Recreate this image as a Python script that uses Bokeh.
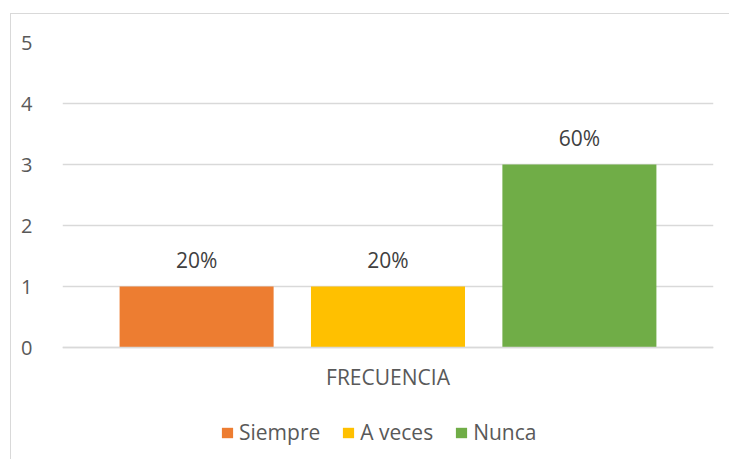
from bokeh.plotting import figure
from bokeh.models import ColumnDataSource, FactorRange, Range1d, Legend, LegendItem
from bokeh.transform import dodge
from bokeh.core.properties import value
from bokeh.embed import file_html
from bokeh.resources import INLINE

# ---- data ----
categories = ["FRECUENCIA"]
series_names = ["Siempre", "A veces", "Nunca"]
series_values = [1, 1, 3]
pct_labels = ["20%", "20%", "60%"]
y_ticks = [0, 1, 2, 3, 4, 5]

# ---- style ----
colors = ["#ED7D31", "#FFC000", "#70AD47"]
offsets = [-0.294, 0.0, 0.294]
bar_width = 0.2366
FONT = "Open Sans"
GRID = "#d9d9d9"
TXT = "#595959"

p = figure(
    x_range=FactorRange(factors=categories),
    y_range=Range1d(-1.852, 5),   # extra room under 0 holds category label and legend
    width=719, height=446,
    output_backend="svg", toolbar_location=None,
    min_border_left=51, min_border_right=17,
    min_border_top=28, min_border_bottom=0,
    margin=(13, 0, 0, 10),
    styles={"border-left": "1px solid #d9d9d9", "border-top": "1px solid #d9d9d9"},
)
p.outline_line_color = None
p.background_fill_color = "white"
p.border_fill_color = "white"

p.xgrid.grid_line_color = None
p.ygrid.grid_line_color = GRID
p.ygrid.grid_line_width = 1.3
p.ygrid.ticker = y_ticks

p.yaxis.ticker = y_ticks
p.yaxis.axis_line_color = None
p.yaxis.major_tick_line_color = None
p.yaxis.minor_tick_line_color = None
p.yaxis.major_label_standoff = 24
p.yaxis.major_label_text_font = FONT
p.yaxis.major_label_text_font_size = "20px"
p.yaxis.major_label_text_color = TXT

p.xaxis.fixed_location = 0
p.xaxis.axis_line_color = GRID
p.xaxis.axis_line_width = 1.3
p.xaxis.major_tick_line_color = None
p.xaxis.minor_tick_line_color = None
p.xaxis.major_label_standoff = 9
p.xaxis.major_label_text_font = FONT
p.xaxis.major_label_text_font_size = "21px"
p.xaxis.major_label_text_color = TXT

items = []
for name, val, pct, col, off in zip(series_names, series_values, pct_labels, colors, offsets):
    src = ColumnDataSource(dict(x=categories, top=[val], label=[pct]))
    r = p.vbar(x=dodge("x", off, range=p.x_range), top="top", width=bar_width,
               source=src, fill_color=col, line_color=None)
    p.text(x=dodge("x", off, range=p.x_range), y="top", text="label", source=src,
           y_offset=-27, text_align="center", text_baseline="alphabetic",
           text_font=value(FONT), text_font_size="21px", text_color="#404040")
    items.append(LegendItem(label=name, renderers=[r]))

legend = Legend(items=items, orientation="horizontal", location=(158, 14),
                padding=0, margin=0, spacing=21, label_standoff=5,
                glyph_width=14, glyph_height=13,
                label_text_font=FONT, label_text_font_size="21px",
                label_text_color=TXT, border_line_color=None,
                background_fill_alpha=0)
p.add_layout(legend)

open("out.html", "w").write(file_html(p, INLINE))
